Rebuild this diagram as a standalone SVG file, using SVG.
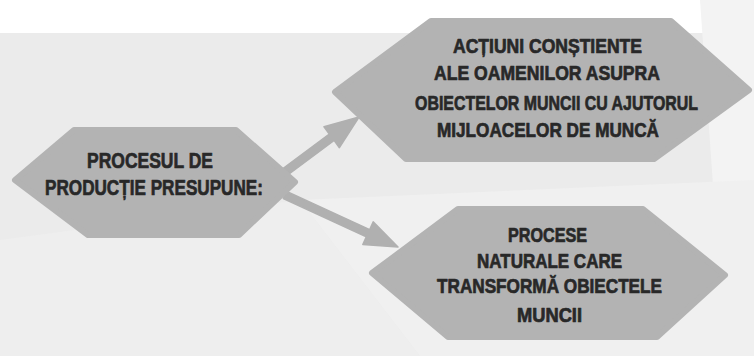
<svg xmlns="http://www.w3.org/2000/svg" width="754" height="356" viewBox="0 0 754 356">
<defs>
<style>
.hex{fill:#b3b3b3;stroke:#b3b3b3;stroke-width:6;stroke-linejoin:round}
.arrow{fill:#b0b0b0;stroke:#b0b0b0;stroke-width:1.5;stroke-linejoin:round}
.t{font-family:"Liberation Sans",Arial,sans-serif;font-weight:bold;fill:#282828;stroke:#282828;stroke-width:0.7;stroke-linejoin:round}
.tl{font-size:22px}
.tr{font-size:20px}
</style>
</defs>
<rect x="0" y="0" width="754" height="356" fill="#ffffff"/>
<g id="background">
<rect x="0" y="33" width="754" height="323" fill="#ebebeb"/>
<polygon points="700,0 754,0 754,356 725,356" fill="#f3f3f3"/>
<polygon points="300,200 754,180 754,356 420,356" fill="#f0f0f0"/>
<polygon points="0,240 300,200 420,356 0,356" fill="#eeeeee"/>
</g>
<g id="connectors">
<polygon class="arrow" points="282.6,168.8 329.3,134.0 324,126.7 359,117 339.4,147.7 334.1,140.4 287.4,175.2"/>
<polygon class="arrow" points="286.7,191.4 369.7,229.6 373.2,221.9 398,247 362.8,244.6 366.3,236.8 283.3,198.6"/>
</g>
<g id="node-procesul">
<polygon class="hex" points="15,180 74,130 236,130 295,182 239,235 88,235"/>
<text class="t tl" x="87" y="168" textLength="126" lengthAdjust="spacingAndGlyphs">PROCESUL DE</text>
<text class="t tl" x="45" y="195" textLength="218" lengthAdjust="spacingAndGlyphs">PRODUC&#x21A;IE PRESUPUNE:</text>
</g>
<g id="node-actiuni">
<polygon class="hex" points="335,92 431,21 671,21 749,90 654,159 406,159"/>
<text class="t tr" x="453" y="53" textLength="189" lengthAdjust="spacingAndGlyphs">AC&#x21A;IUNI CON&#x218;TIENTE</text>
<text class="t tr" x="434" y="80" textLength="226" lengthAdjust="spacingAndGlyphs">ALE OAMENILOR  ASUPRA</text>
<text class="t tr" x="415" y="110" textLength="283" lengthAdjust="spacingAndGlyphs">OBIECTELOR MUNCII CU AJUTORUL</text>
<text class="t tr" x="437" y="137" textLength="222" lengthAdjust="spacingAndGlyphs">MIJLOACELOR DE MUNC&#x102;</text>
</g>
<g id="node-procese">
<polygon class="hex" points="372,273 458,209 643,209 725,275 657,337 448,337"/>
<text class="t tr" x="508" y="242" textLength="79" lengthAdjust="spacingAndGlyphs">PROCESE</text>
<text class="t tr" x="477" y="268" textLength="145" lengthAdjust="spacingAndGlyphs">NATURALE CARE</text>
<text class="t tr" x="437" y="293" textLength="225" lengthAdjust="spacingAndGlyphs">TRANSFORM&#x102; OBIECTELE</text>
<text class="t tr" x="517" y="322" textLength="65" lengthAdjust="spacingAndGlyphs">MUNCII</text>
</g>
</svg>
